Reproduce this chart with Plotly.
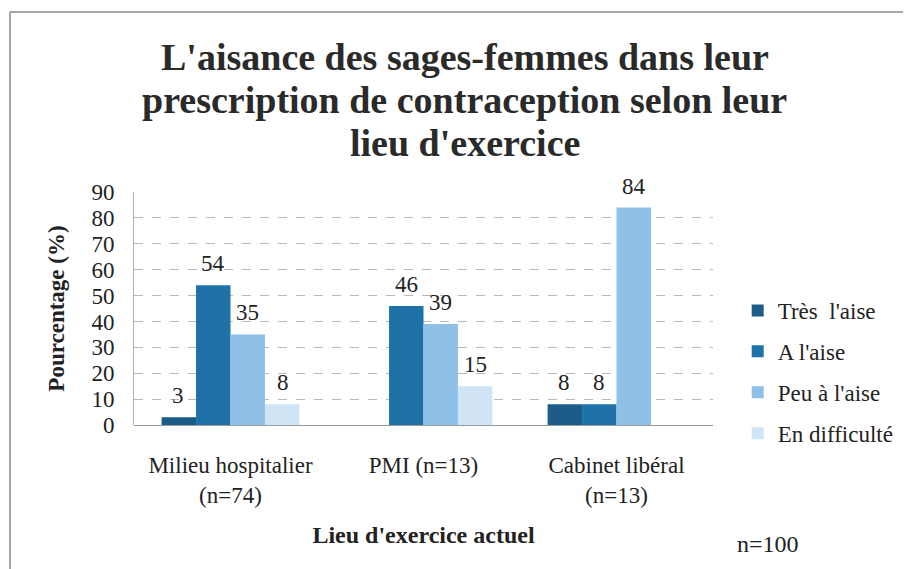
import plotly.graph_objects as go

title_lines = ["L'aisance des sages-femmes dans leur",
               "prescription de contraception selon leur",
               "lieu d'exercice"]
categories = ["Milieu hospitalier<br>(n=74)", "PMI (n=13)", "Cabinet libéral<br>(n=13)"]
series_names = ["Très  l'aise", "A l'aise", "Peu à l'aise", "En difficulté"]
tres_aise = [3, 0, 8]
a_aise = [54, 46, 8]
peu_aise = [35, 39, 84]
en_difficulte = [8, 15, 0]
y_ticks = [0, 10, 20, 30, 40, 50, 60, 70, 80, 90]

series_values = [tres_aise, a_aise, peu_aise, en_difficulte]
colors = ["#1d5b88", "#1e72a8", "#8fc0e8", "#cfe5f5"]

FONT = "Liberation Serif"
TXT = "#222222"
OFF = 8  # page body margin
W, H = 903, 561
L, R, T, B = 134 - OFF, 191, 192 - OFF, 144
BARGAP = 0.286
pw, ph = W - L - R, H - T - B


def px_x(page_x):
    return (page_x - OFF - L) / pw


def px_y(page_y):
    return (H - B - (page_y - OFF)) / ph


def f(size, color=TXT):
    return dict(family=FONT, size=size, color=color)


fig = go.Figure()
for name, vals, col in zip(series_names, series_values, colors):
    fig.add_trace(go.Bar(
        x=categories, y=vals, name=name, marker_color=col,
        marker_line_width=0, legendgroup=name,
    ))

n = len(series_values)
cat_px = pw / len(categories)
bar_px = cat_px * (1 - BARGAP) / n
for i, vals in enumerate(series_values):
    for c, v in zip(categories, vals):
        if v:
            fig.add_annotation(
                x=c, y=v, text=str(v), showarrow=False, yanchor="bottom",
                xshift=(i - (n - 1) / 2) * bar_px, yshift=7, font=f(23),
            )

# title, one annotation per line for tight line spacing
for line, yc in zip(title_lines, [57, 100, 143]):
    fig.add_annotation(
        xref="paper", yref="paper", x=px_x(469), y=px_y(yc),
        text=f"<b>{line}</b>", showarrow=False, xanchor="center", yanchor="middle",
        font=f(38, "#2a2a2a"),
    )

fig.add_annotation(
    xref="paper", yref="paper", x=px_x(776), y=px_y(544),
    text="n=100", showarrow=False, xanchor="center", yanchor="middle", font=f(24),
)

fig.add_shape(type="line", xref="paper", yref="paper",
              x0=px_x(8.5), x1=px_x(930), y0=px_y(12), y1=px_y(12),
              line=dict(color="#8a8a8a", width=1.5))
fig.add_shape(type="line", xref="paper", yref="paper",
              x0=px_x(8.5), x1=px_x(8.5), y0=px_y(12), y1=px_y(600),
              line=dict(color="#8a8a8a", width=1.5))

fig.update_layout(
    width=W, height=H,
    margin=dict(l=L, r=R, t=T, b=B),
    paper_bgcolor="white", plot_bgcolor="white",
    barmode="group", bargap=BARGAP, bargroupgap=0,
    font=f(23),
    legend=dict(
        x=px_x(745), xanchor="left", y=px_y(289), yanchor="top",
        font=f(23), tracegroupgap=8, bgcolor="rgba(0,0,0,0)",
    ),
    showlegend=True,
)

fig.update_yaxes(
    range=[0, 90], tickvals=y_ticks, showgrid=True,
    gridcolor="#b8b8b8", griddash="dash", gridwidth=1,
    showline=True, linecolor="#b0b0b0", linewidth=1,
    zeroline=True, zerolinecolor="#9a9a9a", zerolinewidth=1,
    ticks="outside", ticklen=14, tickcolor="rgba(0,0,0,0)",
    tickfont=f(23),
    title=dict(text="<b>Pourcentage (%)</b>", standoff=20, font=f(23)),
)
fig.update_xaxes(
    showline=False, showgrid=False,
    ticks="outside", ticklen=19, tickcolor="rgba(0,0,0,0)",
    tickfont=f(23),
    title=dict(text="<b>Lieu d'exercice actuel</b>", standoff=19, font=f(24)),
)

fig.write_html("out.html")
